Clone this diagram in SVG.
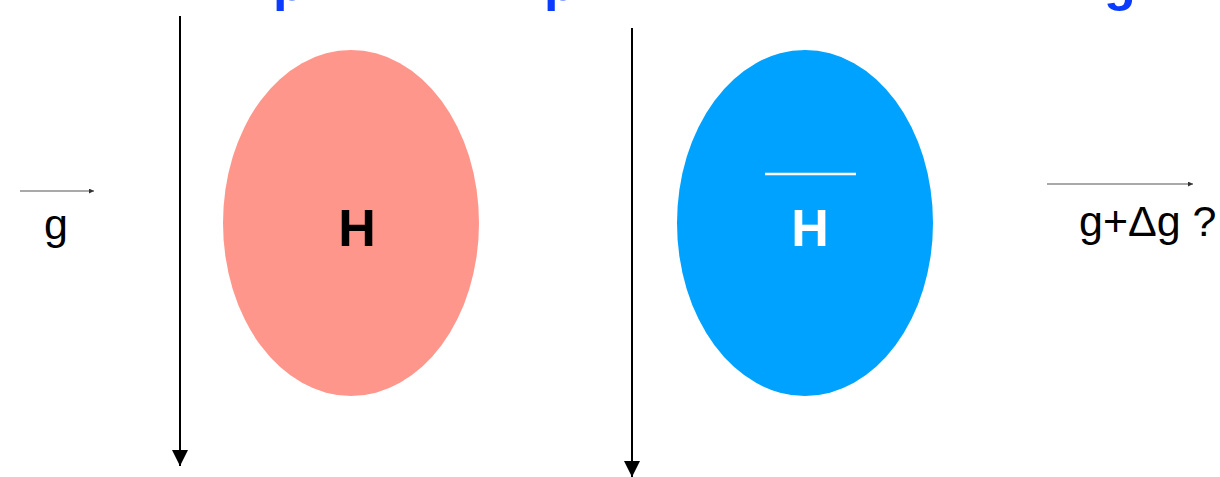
<svg xmlns="http://www.w3.org/2000/svg" width="1220" height="477" viewBox="0 0 1220 477">
  <style>
    .title { font-family: "Liberation Sans", Arial, sans-serif; font-weight: bold; font-size: 52px; fill: #0a3cff; }
    .lbl { font-family: "Liberation Sans", Arial, sans-serif; font-size: 43px; fill: #000; }
    .hb { font-family: "Liberation Sans", Arial, sans-serif; font-weight: bold; font-size: 52px; text-anchor: middle; }
    .vline { stroke: #000; stroke-width: 2; fill: none; }
    .thin { stroke: #555; stroke-width: 1.2; fill: none; }
  </style>
  <defs>
    <marker id="bigHead" markerUnits="userSpaceOnUse" markerWidth="18" markerHeight="18" refX="16" refY="8" orient="auto">
      <path d="M0,0 L16,8 L0,16 Z" fill="#000"/>
    </marker>
    <marker id="smallHead" markerUnits="userSpaceOnUse" markerWidth="6" markerHeight="6" refX="5" refY="2.5" orient="auto">
      <path d="M0,0 L5,2.5 L0,5 Z" fill="#333"/>
    </marker>
  </defs>
  <rect width="1220" height="477" fill="#fff"/>

  <g id="title-fragments">
    <text class="title" x="273" y="0">p</text>
    <text class="title" x="544" y="0">p</text>
    <text class="title" x="1104" y="0">g</text>
  </g>

  <g id="connectors">
    <line class="vline" x1="180" y1="16" x2="180" y2="466" marker-end="url(#bigHead)"/>
    <line class="vline" x1="632" y1="28" x2="632" y2="477" marker-end="url(#bigHead)"/>
    <line class="thin" x1="20" y1="191" x2="94" y2="191" marker-end="url(#smallHead)"/>
    <line class="thin" x1="1047" y1="184" x2="1193" y2="184" marker-end="url(#smallHead)"/>
  </g>

  <g id="node-H">
    <ellipse cx="351" cy="223" rx="128" ry="173" fill="#ff968c"/>
    <text class="hb" x="357" y="246" fill="#000">H</text>
  </g>

  <g id="node-Hbar">
    <ellipse cx="805" cy="223" rx="128" ry="173" fill="#00a2ff"/>
    <line x1="765" y1="174" x2="856" y2="174" stroke="#fff" stroke-width="2.5"/>
    <text class="hb" x="810" y="246" fill="#fff">H</text>
  </g>

  <g id="label-g">
    <text class="lbl" x="44" y="239">g</text>
  </g>
  <g id="label-gdg">
    <text class="lbl" x="1079" y="236">g+Δg ?</text>
  </g>
</svg>
